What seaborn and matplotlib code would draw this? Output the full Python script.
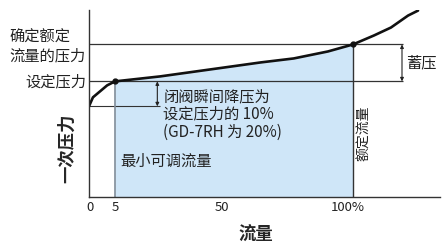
import matplotlib
matplotlib.use('Agg')
import matplotlib.pyplot as plt
import seaborn as sns
import pandas as pd

sns.set_style('white')
plt.rcParams['font.family'] = ['Noto Sans CJK SC', 'DejaVu Sans']

# 曲线读数 (流量, 一次压力) — 横轴刻度位置按图上位置读取
flow = [-0.4, 1.1, 3.8, 6.5, 9.5, 26.7, 45.8, 64.9, 77.5, 90.5, 100, 108, 114.5, 121, 124.8]
pressure = [91, 100, 106, 112, 116, 121, 128, 135, 139, 146, 153, 162, 170, 182, 187]

tick_pos = [0, 9.5, 50, 98]
tick_labels = ['0', '5', '50', '100%']

min_flow = 9.5
rated_flow = 100
set_p = 116
rated_p = 153
close_p = 91

df = pd.DataFrame({'流量': flow, '压力': pressure})

fig = plt.figure(figsize=(4.45, 2.46), dpi=100)
ax = fig.add_axes([0.2, 0.199, 0.789, 0.76])

# 可调范围填色
seg = df[(df['流量'] >= min_flow) & (df['流量'] <= rated_flow)]
ax.fill_between(seg['流量'], 0, seg['压力'], color='#cfe6f8', lw=0)

# 参考线
ax.hlines(rated_p, -0.4, 119, color='#333333', lw=0.9)
ax.hlines(set_p, -0.4, 119, color='#333333', lw=0.9)
ax.hlines(close_p, -0.4, 26.7, color='#333333', lw=0.8)
ax.vlines(min_flow, 0, set_p, color='#7f8c99', lw=1.2)
ax.vlines(rated_flow, 0, rated_p, color='#333333', lw=1.0)

sns.lineplot(data=df, x='流量', y='压力', color='#111111', lw=1.9, ax=ax, sort=False)
ax.plot([min_flow, rated_flow], [set_p, rated_p], 'o', color='#111111', ms=3.5)

# 箭头
ax.annotate('', xy=(25.6, set_p), xytext=(25.6, close_p),
            arrowprops=dict(arrowstyle='<|-|>', lw=0.8, color='#222222', mutation_scale=5, shrinkA=0, shrinkB=0))
ax.annotate('', xy=(118.7, rated_p), xytext=(118.7, set_p),
            arrowprops=dict(arrowstyle='<|-|>', lw=0.8, color='#222222', mutation_scale=5, shrinkA=0, shrinkB=0))

fs = 11
ax.text(-1.5, 151, '确定额定\n流量的压力', ha='right', va='center', multialignment='left',
        fontsize=fs, linespacing=1.1, color='#222222')
ax.text(-1.5, set_p, '设定压力', ha='right', va='center', fontsize=fs, color='#222222')
ax.text(27.9, 83, '闭阀瞬间降压为\n设定压力的 10%\n(GD-7RH 为 20%)', ha='left', va='center',
        fontsize=fs, linespacing=1.05, color='#222222')
ax.text(11.5, 36, '最小可调流量', ha='left', va='center', fontsize=fs, color='#222222')
ax.text(104.2, 64, '额定流量', ha='center', va='center', rotation=90, fontsize=10, color='#222222')
ax.text(120.2, 135, '蓄压', ha='left', va='center', fontsize=fs, color='#222222')

ax.text(63, -38, '流量', ha='center', va='center', fontsize=12.5, fontweight='bold', clip_on=False)
ax.text(-8.8, 49, '一次压力', ha='center', va='center', rotation=90, fontsize=12.5,
        fontweight='bold', clip_on=False)

ax.set_xlim(-0.4, 133.2)
ax.set_ylim(0, 187.5)
ax.set_xticks(tick_pos)
ax.set_xticklabels(tick_labels, fontsize=9.5, color='#222222')
ax.set_yticks([])
ax.tick_params(axis='x', length=0, pad=3)
ax.set_xlabel('')
ax.set_ylabel('')
for s in ['top', 'right']:
    ax.spines[s].set_visible(False)
for s in ['left', 'bottom']:
    ax.spines[s].set_color('#333333')
    ax.spines[s].set_linewidth(1.0)

fig.savefig('out.png', dpi=100)
